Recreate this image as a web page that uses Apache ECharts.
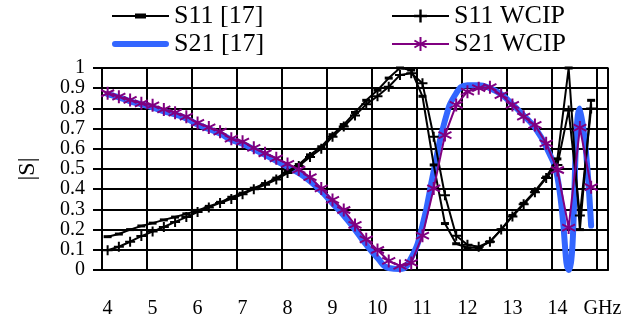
<!DOCTYPE html>
<html><head><meta charset="utf-8">
<script src="https://cdn.jsdelivr.net/npm/echarts@6/dist/echarts.min.js"></script>
<style>html,body{margin:0;padding:0;background:#fff}#c{width:637px;height:320px}</style>
</head><body><div id="c"></div>
<script>
// Frequency categories (GHz), 0.25 GHz step
const freqs = [4,4.25,4.5,4.75,5,5.25,5.5,5.75,6,6.25,6.5,6.75,7,7.25,7.5,7.75,8,8.25,8.5,8.75,
  9,9.25,9.5,9.75,10,10.25,10.5,10.75,11,11.25,11.5,11.75,12,12.25,12.5,12.75,13,13.25,13.5,13.75,
  14,14.25,14.5,14.75,15];
const tickLabels = ['4','5','6','7','8','9','10','11','12','13','14','GHz'];

const s11Ref = [0.165,0.178,0.2,0.218,0.232,0.248,0.262,0.278,0.295,0.315,0.335,0.36,0.38,0.405,0.428,0.455,
  0.488,0.522,0.57,0.61,0.67,0.72,0.78,0.84,0.89,0.95,1.0,0.99,0.86,0.52,0.23,0.13,0.11,0.11,
  0.14,0.2,0.27,0.33,0.39,0.46,0.55,1.0,0.2,0.84];
const s21Ref = [0.87,0.855,0.835,0.82,0.805,0.785,0.77,0.75,0.72,0.698,0.675,0.645,0.625,0.597,0.57,0.54,
  0.51,0.48,0.44,0.39,0.33,0.27,0.2,0.125,0.06,0.01,0.005,0.06,0.22,0.49,0.74,0.875,0.915,0.915,
  0.9,0.87,0.82,0.765,0.705,0.61,0.46,0.0,0.8,0.22];
const s11Wcip = [0.098,0.115,0.14,0.168,0.19,0.213,0.238,0.262,0.287,0.31,0.332,0.352,0.375,0.4,0.422,0.448,
  0.48,0.515,0.56,0.6,0.66,0.71,0.765,0.82,0.86,0.907,0.965,0.974,0.924,0.66,0.37,0.17,0.125,0.115,
  0.14,0.2,0.265,0.325,0.385,0.455,0.52,0.79,0.27,0.8];
const s21Wcip = [0.875,0.858,0.842,0.825,0.815,0.795,0.779,0.759,0.728,0.706,0.685,0.65,0.635,0.605,0.578,0.553,
  0.525,0.497,0.46,0.404,0.347,0.297,0.223,0.152,0.099,0.045,0.02,0.035,0.17,0.404,0.668,0.817,0.883,0.9,
  0.905,0.866,0.817,0.759,0.718,0.627,0.495,0.21,0.705,0.41];

const FONT = 'Liberation Serif';
const BLUE = '#3366ff', PURPLE = '#800080';
const asterisk = 'path://M0,-1L0,1M-0.866,-0.5L0.866,0.5M-0.866,0.5L0.866,-0.5';
const plus = 'path://M-1,0L1,0M0,-1L0,1';

// legend icons, drawn in a 57x16 box (corner points fix the box)
const BOX = 'M0,0L0,0ZM57,16L57,16Z';
const iconS11Ref = 'path://' + BOX + 'M0,7L57,7L57,9L0,9ZM23,5.5L34,5.5L34,10.5L23,10.5Z';
const iconS21Ref = 'path://' + BOX + 'M3,5L54,5A3,3 0 0 1 54,11L3,11A3,3 0 0 1 3,5Z';
const iconS11Wcip = 'path://' + BOX + 'M0,7L57,7L57,9L0,9ZM22,6.8L35,6.8L35,9.2L22,9.2ZM27.3,1.5L29.7,1.5L29.7,14.5L27.3,14.5Z';
const iconS21Wcip = 'path://' + BOX + 'M0,7L57,7L57,9L0,9ZM27.5,1L29.5,1L29.5,15L27.5,15Z' +
  'M21.94,5.37L22.94,3.63L35.06,10.63L34.06,12.37Z' +
  'M21.94,10.63L34.06,3.63L35.06,5.37L22.94,12.37Z';

const legendText = {fontFamily: FONT, fontSize: 26, color: '#000', lineHeight: 23};
const chart = echarts.init(document.getElementById('c'), null, {renderer: 'canvas'});
chart.setOption({
  animation: false,
  backgroundColor: '#fff',
  legend: [
    {data: [{name: 'S11 [17]', icon: iconS11Ref}, {name: 'S21 [17]', icon: iconS21Ref}],
     orient: 'vertical', left: 112, top: 3, padding: 0, itemWidth: 57, itemHeight: 16, itemGap: 2,
     itemStyle: {borderWidth: 0}, textStyle: legendText},
    {data: [{name: 'S11 WCIP', icon: iconS11Wcip}, {name: 'S21 WCIP', icon: iconS21Wcip}],
     orient: 'vertical', left: 392, top: 3, padding: 0, itemWidth: 57, itemHeight: 16, itemGap: 2,
     itemStyle: {borderWidth: 0}, textStyle: legendText}
  ],
  grid: {left: 102, top: 68, width: 506, height: 202, show: true, borderColor: '#808080', borderWidth: 2},
  xAxis: {
    type: 'category', data: freqs, boundaryGap: true,
    axisLine: {lineStyle: {color: '#000', width: 2}},
    axisTick: {interval: 3, length: 8, lineStyle: {color: '#000', width: 2}},
    splitLine: {show: true, interval: 3, lineStyle: {color: '#000', width: 2}},
    axisLabel: {interval: 3, margin: 29, fontFamily: FONT, fontSize: 20, color: '#000',
      formatter: (v, i) => tickLabels[Math.round(i / 4)]}
  },
  yAxis: {
    type: 'value', min: 0, max: 1, interval: 0.1,
    name: '|S|', nameLocation: 'middle', nameRotate: 90, nameGap: 62,
    nameTextStyle: {fontFamily: FONT, fontSize: 24, color: '#000'},
    axisLine: {show: true, lineStyle: {color: '#000', width: 2}},
    axisTick: {show: true, length: 9, lineStyle: {color: '#000', width: 2}},
    splitLine: {lineStyle: {color: '#000', width: 2}},
    axisLabel: {margin: 17, fontFamily: FONT, fontSize: 20, color: '#000'}
  },
  series: [
    {name: 'S21 [17]', type: 'line', data: s21Ref, smooth: true, symbol: 'none',
     itemStyle: {color: BLUE}, lineStyle: {color: BLUE, width: 6, cap: 'round'}, z: 1},
    {name: 'S11 [17]', type: 'line', data: s11Ref, symbol: 'rect', symbolSize: [8, 3], showAllSymbol: true,
     itemStyle: {color: '#000'}, lineStyle: {color: '#000', width: 2}, z: 2},
    {name: 'S11 WCIP', type: 'line', data: s11Wcip, symbol: plus, symbolSize: 10, showAllSymbol: true,
     itemStyle: {color: '#000', borderColor: '#000', borderWidth: 2}, lineStyle: {color: '#000', width: 2}, z: 3},
    {name: 'S21 WCIP', type: 'line', data: s21Wcip, symbol: asterisk, symbolSize: 13, showAllSymbol: true,
     itemStyle: {color: PURPLE, borderColor: PURPLE, borderWidth: 2}, lineStyle: {color: PURPLE, width: 2}, z: 4}
  ]
});
</script></body></html>
